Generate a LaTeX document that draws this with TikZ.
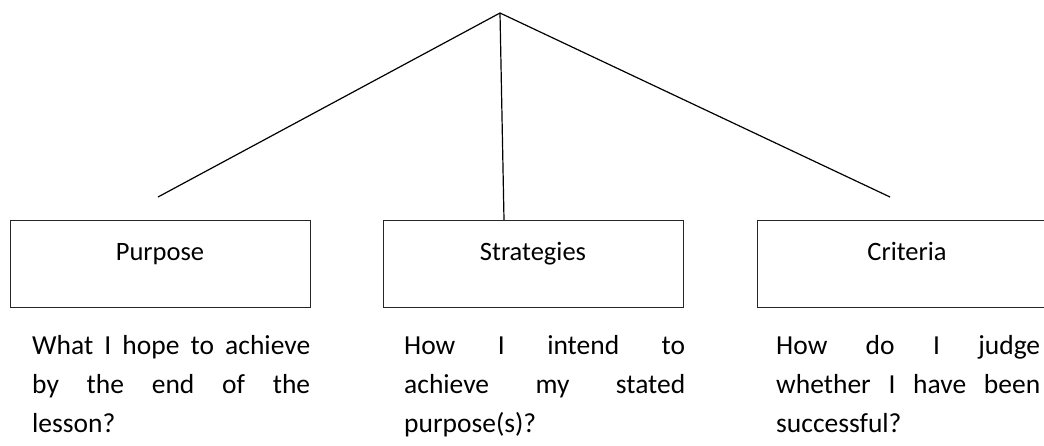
\documentclass[tikz,border=0pt]{standalone}
\usepackage{fontspec}
\setmainfont{Carlito}
\begin{document}
\begin{tikzpicture}[x=1pt,y=-1pt,
  box/.style={draw=black!85,line width=1.4pt,minimum width=300pt,minimum height=87pt,anchor=north west,inner sep=0pt},
  lbl/.style={font=\fontsize{26.5}{30}\selectfont,anchor=base,inner sep=0pt},
  desc/.style={font=\fontsize{27.5}{39}\selectfont,anchor=north west,inner sep=0pt,align=left},
  conn/.style={line width=1.2pt}]
\useasboundingbox (0,0) rectangle (1044,445);
\clip (0,0) rectangle (1044,445);
\coordinate (apex) at (500,13);
\coordinate (lend) at (158,197);
\coordinate (rend) at (890,197);
\node[box] (b1) at (10,220) {};
\node[box] (b2) at (383,220) {};
\node[box] (b3) at (757,220) {};
\node[lbl] (l1) at (160,260) {Purpose};
\node[lbl] (l2) at (533,260) {Strategies};
\node[lbl] (l3) at (907,260) {Criteria};
\coordinate (mid) at (504,220);
\draw[conn] (apex) -- (lend);
\draw[conn] (apex) -- (mid);
\draw[conn] (apex) -- (rend);
\node[desc] (d1) at (32,335) {\makebox[278pt][s]{What I hope to achieve}\\\makebox[278pt][s]{by the end of the}\\lesson?};
\node[desc] (d2) at (404,335) {\makebox[281pt][s]{How I intend to}\\\makebox[281pt][s]{achieve my stated}\\purpose(s)?};
\node[desc] (d3) at (776,335) {\makebox[264pt][s]{How do I judge}\\\makebox[264pt][s]{whether I have been}\\successful?};
\end{tikzpicture}
\end{document}
